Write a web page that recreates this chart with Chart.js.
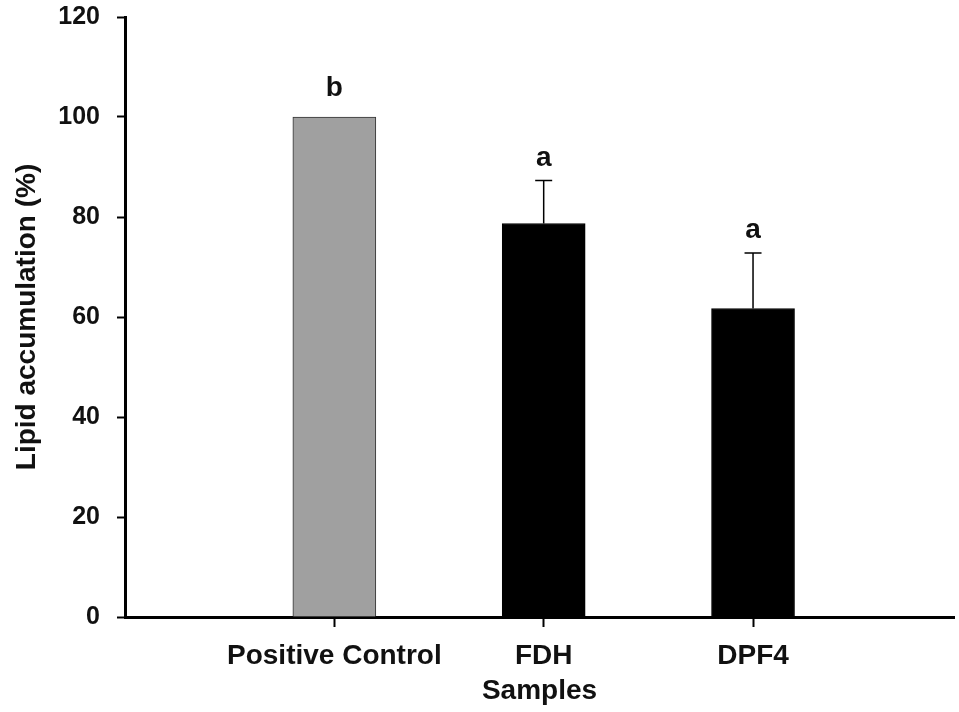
<!DOCTYPE html>
<html>
<head>
<meta charset="utf-8">
<script src="https://cdn.jsdelivr.net/npm/chart.js@4.4.1/dist/chart.umd.min.js"></script>
<style>
  html, body { margin: 0; padding: 0; background: #fff; }
  #wrap { width: 959px; height: 712px; position: relative; }
</style>
</head>
<body>
<div id="wrap"><canvas id="c" width="959" height="712"></canvas></div>
<script>
// Sample groups and their mean lipid accumulation (% of positive control)
const categories = ['Positive Control', 'FDH', 'DPF4'];
const positions = [1, 2, 3];
const meanValues = [100, 78.7, 61.7];
const errorUpper = [0, 8.6, 11.1];          // +SD above each mean
const groupLetters = ['b', 'a', 'a'];       // significance groups
const barColors = ['#a0a0a0', '#000000', '#000000'];
const yTicks = [0, 20, 40, 60, 80, 100, 120];

const FONT = "'Liberation Sans', Arial, sans-serif";

// Error bars (upper whisker with cap) and significance letters
const annotate = {
  id: 'annotate',
  afterDatasetsDraw(chart) {
    const { ctx, scales: { x, y } } = chart;
    ctx.save();
    positions.forEach((p, i) => {
      const cx = x.getPixelForValue(p);
      const top = y.getPixelForValue(meanValues[i]);
      let labelBase = top;
      if (errorUpper[i] > 0) {
        const et = y.getPixelForValue(meanValues[i] + errorUpper[i]);
        ctx.strokeStyle = '#000';
        ctx.lineWidth = 1.5;
        ctx.beginPath();
        ctx.moveTo(cx, top);
        ctx.lineTo(cx, et);
        ctx.moveTo(cx - 8.5, et);
        ctx.lineTo(cx + 8.5, et);
        ctx.stroke();
        labelBase = et;
      }
      ctx.fillStyle = '#111';
      ctx.font = 'bold 28px ' + FONT;
      ctx.textAlign = 'center';
      ctx.textBaseline = 'alphabetic';
      ctx.fillText(groupLetters[i], cx, labelBase - (errorUpper[i] > 0 ? 15 : 21));
    });
    ctx.restore();
  }
};

new Chart(document.getElementById('c'), {
  type: 'bar',
  data: {
    datasets: [{
      data: positions.map((p, i) => ({ x: p, y: meanValues[i] })),
      backgroundColor: barColors,
      borderColor: ['#333333', '#000000', '#000000'],
      borderWidth: 1,
      borderSkipped: 'bottom',
      barThickness: 83
    }]
  },
  options: {
    responsive: false,
    animation: false,
    layout: { padding: { top: 17, right: 5, left: 0, bottom: 0 } },
    plugins: { legend: { display: false }, tooltip: { enabled: false } },
    scales: {
      x: {
        type: 'linear',
        min: 0,
        max: 3.96,
        offset: false,
        afterBuildTicks(axis) { axis.ticks = positions.map(v => ({ value: v })); },
        afterFit(axis) {
          axis.height = 95;
          axis.paddingTop = 0;
          axis.paddingBottom = 0;
        },
        ticks: {
          callback: (v) => categories[positions.indexOf(v)] ?? '',
          color: '#111',
          font: { family: FONT, size: 28, weight: 'bold' },
          padding: 12,
          maxRotation: 0,
          autoSkip: false
        },
        grid: { offset: false, drawOnChartArea: false, drawTicks: true, tickLength: 10, tickColor: '#000', tickWidth: 2 },
        border: { color: '#000', width: 3 },
        title: {
          display: true,
          text: 'Samples',
          color: '#111',
          font: { family: FONT, size: 28, weight: 'bold' },
          padding: { top: 0, bottom: 4 }
        }
      },
      y: {
        min: 0,
        max: 120,
        afterBuildTicks(axis) { axis.ticks = yTicks.map(v => ({ value: v })); },
        afterFit(axis) {
          axis.width = 125;
          axis.paddingTop = 0;
          axis.paddingBottom = 0;
        },
        ticks: {
          color: '#111',
          font: { family: FONT, size: 25, weight: 'bold' },
          padding: 17
        },
        grid: { drawOnChartArea: false, drawTicks: true, tickLength: 8, tickColor: '#000', tickWidth: 2 },
        border: { color: '#000', width: 3 },
        title: {
          display: true,
          text: 'Lipid accumulation (%)',
          color: '#111',
          font: { family: FONT, size: 28, weight: 'bold' },
          padding: { top: 10, bottom: 0 }
        }
      }
    }
  },
  plugins: [annotate]
});
</script>
</body>
</html>
